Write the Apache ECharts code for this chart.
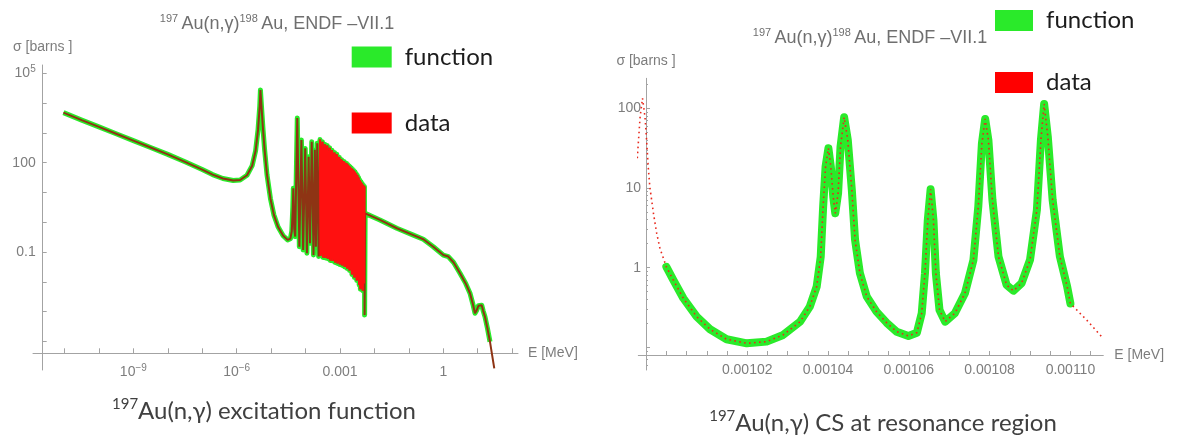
<!DOCTYPE html>
<html>
<head>
<meta charset="utf-8">
<script src="https://cdn.jsdelivr.net/npm/echarts@6/dist/echarts.min.js"></script>
<style>
html, body { margin: 0; padding: 0; background: #fff; }
#chart { width: 1177px; height: 440px; }
</style>
</head>
<body>
<div id="chart"></div>
<script>
// left panel: 197Au(n,g) excitation function, log10(E/MeV) vs log10(sigma/barn)
var leftLogE = [
	-11.03, -10.5, -10, -9.5, -9, -8.5, -8, -7.5, -7, -6.7, -6.4, -6.1, -5.9, -5.7, -5.55, -5.45,
	-5.38, -5.33, -5.31, -5.28, -5.24, -5.19, -5.12, -5.02, -4.92, -4.80, -4.65, -4.52, -4.44, -4.40,
	-4.37, -4.355, -4.33, -4.30, -4.24, -4.18, -4.12, -4.07, -4.01, -3.96, -3.91, -3.87, -3.82, -3.77,
	-3.73, -3.70, -3.66, -3.62, -3.58,
	-3.5625, -3.545, -3.5275, -3.51, -3.4925, -3.475, -3.4575, -3.44, -3.4225, -3.405, -3.3875, -3.37,
	-3.3525, -3.335, -3.3175, -3.30, -3.2825, -3.265, -3.2475, -3.23, -3.2125, -3.195, -3.1775, -3.16,
	-3.1425, -3.125, -3.1075, -3.09, -3.0725, -3.055, -3.0375, -3.02, -3.0025, -2.985, -2.9675, -2.95,
	-2.9325, -2.915, -2.8975, -2.88, -2.8625, -2.845, -2.8275, -2.81, -2.7925, -2.775, -2.7575, -2.74,
	-2.7225, -2.705, -2.6875, -2.67, -2.6525, -2.635, -2.6175, -2.60, -2.5825, -2.565, -2.5475, -2.53,
	-2.5125, -2.495, -2.4775, -2.46, -2.4425, -2.425, -2.4075, -2.39, -2.3725, -2.355, -2.3375, -2.32,
	-2.3025, -2.29,
	-2.285, -2.27, -2.22, -1.84, -1.35, -0.87, -0.58, -0.29, 0.0, 0.145, 0.30, 0.485, 0.65, 0.775,
	0.86, 0.92, 0.97, 1.02, 1.07, 1.115, 1.16, 1.21, 1.28, 1.356
];
var leftLogSigma = [
	3.68, 3.43, 3.20, 2.97, 2.74, 2.51, 2.28, 2.03, 1.77, 1.60, 1.47, 1.40, 1.42, 1.58, 1.90, 2.40,
	3.10, 3.90, 4.44, 3.90, 3.20, 2.45, 1.60, 0.80, 0.25, -0.15, -0.45, -0.59, -0.55, -0.30,
	0.50, 1.14, -0.20, -0.48, 3.50, -0.82, 2.76, -0.93, 2.48, -1.04, 2.20, -0.70, 2.70, -1.10,
	2.43, -0.82, 2.65, -1.15, 2.78,
	-1.12, 2.55, -1.05, 2.70, -1.18, 2.52, -1.10, 2.62, -1.20, 2.48, -1.15, 2.58,
	-1.22, 2.40, -1.18, 2.50, -1.28, 2.36, -1.22, 2.42, -1.30, 2.30, -1.26, 2.34,
	-1.35, 2.25, -1.30, 2.28, -1.38, 2.20, -1.34, 2.18, -1.42, 2.12, -1.38, 2.10,
	-1.45, 2.06, -1.42, 2.04, -1.50, 2.00, -1.46, 1.98, -1.55, 1.94, -1.52, 1.90,
	-1.62, 1.86, -1.58, 1.82, -1.75, 1.78, -1.70, 1.74, -1.85, 1.70, -1.80, 1.64,
	-1.95, 1.58, -1.90, 1.50, -2.10, 1.42, -2.25, 1.36, -2.20, 1.30, -2.30, 1.24,
	-2.05, 1.20,
	-3.11, 0.30, 0.25, 0.08, -0.20, -0.43, -0.57, -0.82, -1.10, -1.15, -1.35, -1.71, -2.05, -2.38,
	-2.75, -3.05, -2.95, -2.80, -2.74, -2.78, -2.98, -3.17, -3.55, -4.01
];
// evaluated data continues past the end of the function
var leftTailLogE = [1.48];
var leftTailLogSigma = [-4.90];
var leftDenseRange = [-3.60, -2.289];

var leftXTicks = [-11, -10, -9, -8, -7, -6, -5, -4, -3, -2, -1, 0, 1, 2];
var leftXLabelValues = [-9, -6, -3, 0];
var leftXLabels = ['10^\u22129', '10^\u22126', '0.001', '1'];
var leftYTicks = [-4, -3, -2, -1, 0, 1, 2, 3, 4, 5];
var leftYLabelValues = [5, 2, -1];
var leftYLabels = ['10^5', '100', '0.1'];

// right panel: resonance region, E in MeV, log10(sigma/barn)
var rightE = [
	0.0010000, 0.0010017, 0.0010042, 0.0010075, 0.0010108, 0.0010149, 0.0010199, 0.0010248, 0.0010289,
	0.0010331, 0.0010355, 0.0010372, 0.0010382, 0.0010388, 0.0010394, 0.0010401, 0.0010407, 0.0010413,
	0.0010418, 0.0010425, 0.0010431, 0.0010440, 0.0010449, 0.0010459, 0.0010467, 0.0010479, 0.0010496,
	0.0010520, 0.0010545, 0.0010570, 0.0010599, 0.0010620, 0.0010632, 0.0010640, 0.0010647, 0.0010654,
	0.0010661, 0.0010667, 0.0010676, 0.0010690, 0.0010714, 0.0010739, 0.0010760, 0.0010772, 0.0010781,
	0.0010789, 0.0010797, 0.0010807, 0.0010822, 0.0010842, 0.0010859, 0.0010879, 0.0010900, 0.0010917,
	0.0010927, 0.0010935, 0.0010944, 0.0010956, 0.0010974, 0.0010992, 0.0011000
];
var rightLogSigma = [
	0.01, -0.154, -0.384, -0.615, -0.773, -0.898, -0.949, -0.928, -0.844,
	-0.678, -0.489, -0.238, 0.138, 0.765, 1.267, 1.498, 1.267, 0.891,
	0.682, 0.934, 1.518, 1.887, 1.602, 0.975, 0.348, -0.07, -0.364,
	-0.552, -0.69, -0.803, -0.857, -0.816, -0.572, -0.07, 0.598, 0.984,
	0.598, -0.07, -0.531, -0.678, -0.572, -0.321, 0.097, 0.765, 1.561,
	1.866, 1.602, 0.849, 0.138, -0.217, -0.289, -0.196, 0.097, 0.724,
	1.602, 2.054, 1.644, 0.849, 0.138, -0.238, -0.45
];
var rightHeadE = [0.0009928, 0.0009935, 0.0009941, 0.0009947, 0.0009951, 0.0009955, 0.0009959, 0.0009968, 0.0009976, 0.0009984, 0.0009997];
var rightHeadLogSigma = [1.373, 1.895, 2.125, 1.895, 1.602, 1.267, 1.016, 0.682, 0.432, 0.243, 0.055];
var rightTailE = [0.0011040, 0.0011081];
var rightTailLogSigma = [-0.656, -0.886];

var rightXTicks = [0.001, 0.001005, 0.00101, 0.001015, 0.00102, 0.001025, 0.00103, 0.001035, 0.00104, 0.001045,
	0.00105, 0.001055, 0.00106, 0.001065, 0.00107, 0.001075, 0.00108, 0.001085, 0.00109, 0.001095, 0.0011, 0.001105];
var rightXLabelValues = [0.00102, 0.00104, 0.00106, 0.00108, 0.0011];
var rightYTicks = [-1, 0, 1, 2];
var rightYLabelValues = [0, 1, 2];
var rightYLabels = ['1', '10', '100'];
var rightYMinorTicks = [
	-1.222, -1.155, -1.097, -1.046,
	-0.699, -0.523, -0.398, -0.301, -0.222, -0.155, -0.097, -0.046,
	0.301, 0.477, 0.602, 0.699, 0.778, 0.845, 0.903, 0.954,
	1.301, 1.477, 1.602, 1.699, 1.778, 1.845, 1.903, 1.954,
	2.301
];

var axisGray = '#a3a3a3';
var labelGray = '#7d7d7d';
var mmaFont = 'Liberation Sans, Arial, sans-serif';

function zip(xs, ys) {
	var out = [];
	for (var i = 0; i < xs.length; i++) out.push([xs[i], ys[i]]);
	return out;
}

// "10^5" -> rich text with superscript
function supLabel(s) {
	var k = s.indexOf('^');
	if (k < 0) return '{b|' + s + '}';
	return '{b|' + s.slice(0, k) + '}{s|' + s.slice(k + 1) + '}';
}

var labelRich = {
	b: { fontSize: 14, color: labelGray, fontFamily: mmaFont, lineHeight: 18 },
	s: { fontSize: 10, color: labelGray, fontFamily: mmaFont, lineHeight: 10, verticalAlign: 'top' }
};

var titleRich = {
	m: { fontSize: 18, fontFamily: mmaFont, fill: '#6f6f6f', lineHeight: 22 },
	s: { fontSize: 11, fontFamily: mmaFont, fill: '#6f6f6f', lineHeight: 11, verticalAlign: 'top' }
};
var captionRich = {
	m: { fontSize: 24, fontFamily: 'Lato', fill: '#404040', lineHeight: 29 },
	s: { fontSize: 15, fontFamily: 'Lato', fill: '#404040', lineHeight: 15, verticalAlign: 'top' }
};

var leftFn = zip(leftLogE, leftLogSigma);
var leftData = leftFn.concat(zip(leftTailLogE, leftTailLogSigma));
var leftDense = leftFn.filter(function(p) {
	return p[0] >= leftDenseRange[0] && p[0] <= leftDenseRange[1];
});
var rightFn = zip(rightE, rightLogSigma);
var rightData = zip(rightHeadE, rightHeadLogSigma).concat(rightFn, zip(rightTailE, rightTailLogSigma));

var chart = echarts.init(document.getElementById('chart'));

var option = {
	animation: false,
	backgroundColor: '#fff',
	grid: [
		{ left: 33, top: 65, width: 485, height: 305 },
		{ left: 638.3, top: 78.3, width: 465, height: 291.7 }
	],
	xAxis: [
		{
			type: 'value', gridIndex: 0, min: -11.914, max: 2.169, position: 'bottom', offset: -16.7,
			name: 'E [MeV]', nameLocation: 'end', nameGap: 10,
			nameTextStyle: { color: labelGray, fontSize: 14, fontFamily: mmaFont },
			axisLine: { onZero: false, lineStyle: { color: axisGray, width: 1 } },
			axisTick: { inside: true, length: 5, customValues: leftXTicks, lineStyle: { color: axisGray } },
			axisLabel: {
				customValues: leftXLabelValues, margin: 10, rich: labelRich,
				formatter: function(v) { return supLabel(leftXLabels[leftXLabelValues.indexOf(v)]); }
			},
			splitLine: { show: false }
		},
		{
			type: 'value', gridIndex: 1, min: 0.00099305, max: 0.00110814, position: 'bottom', offset: -15,
			name: 'E [MeV]', nameLocation: 'end', nameGap: 11,
			nameTextStyle: { color: labelGray, fontSize: 14, fontFamily: mmaFont },
			axisLine: { onZero: false, lineStyle: { color: axisGray, width: 1 } },
			axisTick: { inside: true, length: 4, customValues: rightXTicks, lineStyle: { color: axisGray } },
			axisLabel: {
				customValues: rightXLabelValues, margin: 8, color: labelGray, fontSize: 14, fontFamily: mmaFont,
				formatter: function(v) { return v.toFixed(5); }
			},
			splitLine: { show: false }
		}
	],
	yAxis: [
		{
			type: 'value', gridIndex: 0, min: -4.956, max: 5.278, position: 'left', offset: -9.7,
			name: 'σ [barns ]', nameLocation: 'end', nameGap: 11,
			nameTextStyle: { color: labelGray, fontSize: 14, fontFamily: mmaFont },
			axisLine: { onZero: false, lineStyle: { color: axisGray, width: 1 } },
			axisTick: { inside: true, length: 4, customValues: leftYTicks, lineStyle: { color: axisGray } },
			axisLabel: {
				customValues: leftYLabelValues, margin: 7, rich: labelRich,
				formatter: function(v) { return supLabel(leftYLabels[leftYLabelValues.indexOf(v)]); }
			},
			splitLine: { show: false }
		},
		{
			type: 'value', gridIndex: 1, min: -1.284, max: 2.376, position: 'left', offset: -7.7,
			name: 'σ [barns ]', nameLocation: 'end', nameGap: 10,
			nameTextStyle: { color: labelGray, fontSize: 14, fontFamily: mmaFont },
			axisLine: { onZero: false, lineStyle: { color: axisGray, width: 1 } },
			axisTick: { inside: true, length: 4, customValues: rightYTicks, lineStyle: { color: axisGray } },
			axisLabel: {
				customValues: rightYLabelValues, margin: 5, color: labelGray, fontSize: 14, fontFamily: mmaFont,
				formatter: function(v) { return rightYLabels[rightYLabelValues.indexOf(v)]; }
			},
			splitLine: { show: false }
		},
		{
			// minor log ticks
			type: 'value', gridIndex: 1, min: -1.284, max: 2.376, position: 'left', offset: -7.7,
			axisLine: { show: false, onZero: false },
			axisTick: { show: true, inside: true, length: 2, customValues: rightYMinorTicks, lineStyle: { color: axisGray } },
			axisLabel: { show: false },
			splitLine: { show: false }
		}
	],
	legend: [
		{
			left: 351.7, top: 45, orient: 'vertical', icon: 'rect', itemWidth: 40, itemHeight: 21, itemGap: 42,
			padding: 0, selectedMode: false,
			textStyle: { fontFamily: 'Lato', fontSize: 24, color: '#1c1c1c', padding: [0, 0, 0, 8] },
			data: [
				{ name: 'function', itemStyle: { color: '#2aea2a', borderWidth: 0 } },
				{ name: 'data', itemStyle: { color: '#ff0000', borderWidth: 0 } }
			]
		},
		{
			left: 995, top: 8.5, orient: 'vertical', icon: 'rect', itemWidth: 38, itemHeight: 21, itemGap: 38,
			padding: 0, selectedMode: false,
			textStyle: { fontFamily: 'Lato', fontSize: 24, color: '#1c1c1c', padding: [0, 0, 0, 8] },
			data: [
				{ name: 'function', itemStyle: { color: '#2aea2a', borderWidth: 0 } },
				{ name: 'data', itemStyle: { color: '#ff0000', borderWidth: 0 } }
			]
		}
	],
	graphic: [
		{
			type: 'text', x: 277, y: 24,
			style: {
				text: '{s|197} {m|Au(n,γ)}{s|198} {m|Au, ENDF –VII.1}',
				align: 'center', verticalAlign: 'middle', rich: titleRich
			}
		},
		{
			type: 'text', x: 870, y: 38,
			style: {
				text: '{s|197} {m|Au(n,γ)}{s|198} {m|Au, ENDF –VII.1}',
				align: 'center', verticalAlign: 'middle', rich: titleRich
			}
		},
		{
			type: 'text', x: 264, y: 411,
			style: {
				text: '{s|197}{m|Au(n,γ) excitation function}',
				align: 'center', verticalAlign: 'middle', rich: captionRich
			}
		},
		{
			type: 'text', x: 883, y: 423,
			style: {
				text: '{s|197}{m|Au(n,γ) CS at resonance region}',
				align: 'center', verticalAlign: 'middle', rich: captionRich
			}
		}
	],
	series: [
		{
			name: 'function', type: 'line', xAxisIndex: 0, yAxisIndex: 0, data: leftFn,
			showSymbol: false, z: 2, color: '#2aea2a',
			lineStyle: { color: '#2aea2a', width: 5, join: 'round' }
		},
		{
			name: 'data', type: 'line', xAxisIndex: 0, yAxisIndex: 0, data: leftData,
			showSymbol: false, z: 3, color: '#ff0000',
			lineStyle: { color: '#8e3414', width: 2 }
		},
		{
			name: 'data', type: 'line', xAxisIndex: 0, yAxisIndex: 0, data: leftDense,
			showSymbol: false, z: 4, color: '#ff0000',
			lineStyle: { color: '#ff1010', width: 2.2 }
		},
		{
			name: 'function', type: 'line', xAxisIndex: 1, yAxisIndex: 1, data: rightFn,
			showSymbol: false, z: 2, color: '#2aea2a',
			lineStyle: { color: '#2aea2a', width: 8, cap: 'round', join: 'round' }
		},
		{
			name: 'data', type: 'line', xAxisIndex: 1, yAxisIndex: 1, data: rightData,
			showSymbol: false, z: 3, color: '#ff0000',
			lineStyle: { color: '#e8281c', width: 1.6, type: [1.6, 3.4] }
		}
	]
};

chart.setOption(option);
</script>
</body>
</html>
